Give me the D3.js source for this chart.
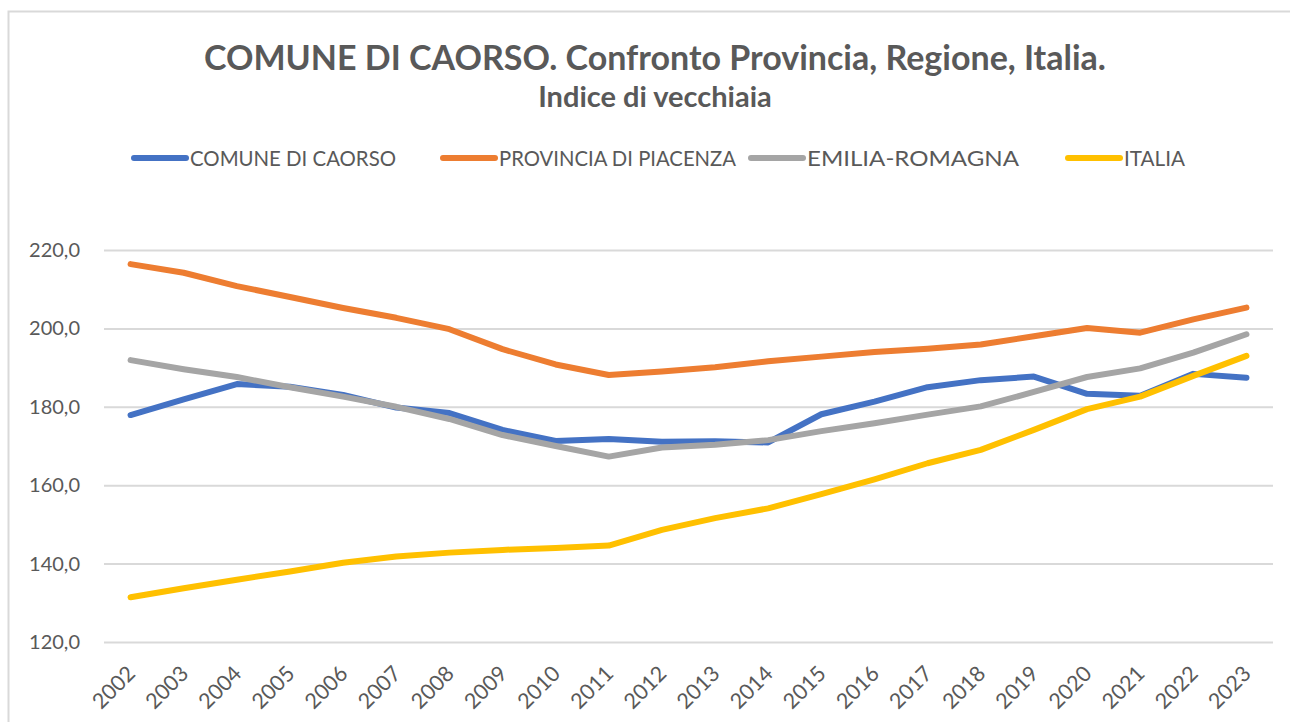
<!DOCTYPE html>
<html>
<head>
<meta charset="utf-8">
<script src="https://cdn.jsdelivr.net/npm/d3@7"></script>
<style>
  html, body { margin: 0; padding: 0; background: #fff; }
  svg { display: block; font-family: Lato, "Open Sans", sans-serif; }
</style>
</head>
<body>
<div id="chart"></div>
<script>
// Anni (asse x)
const years = ["2002","2003","2004","2005","2006","2007","2008","2009","2010","2011","2012",
               "2013","2014","2015","2016","2017","2018","2019","2020","2021","2022","2023"];

// Indice di vecchiaia per serie
const caorso = [177.9,181.9,185.8,185.1,183.0,179.8,178.4,174.1,171.3,171.8,171.1,
                171.2,170.9,178.1,181.3,185.0,186.8,187.7,183.3,182.8,188.4,187.4];
const piacenza = [216.4,214.2,210.8,208.0,205.2,202.7,199.8,194.7,190.8,188.1,189.0,
                  190.1,191.6,192.8,194.0,194.8,195.9,198.0,200.1,198.9,202.3,205.3];
const emiliaRomagna = [191.9,189.6,187.6,185.0,182.6,180.0,176.9,172.8,170.0,167.3,169.6,
                       170.3,171.5,173.8,175.8,178.0,180.1,183.8,187.6,189.8,193.8,198.5];
const italia = [131.4,133.7,135.9,138.0,140.2,141.8,142.8,143.5,144.0,144.6,148.6,
                151.6,154.1,157.7,161.5,165.6,169.0,174.1,179.4,182.6,187.9,193.0];

const seriesNames = ["COMUNE DI CAORSO","PROVINCIA DI PIACENZA","EMILIA-ROMAGNA","ITALIA"];
const seriesColors = ["#4472C4","#ED7D31","#A5A5A5","#FFC000"];
const yTicks = [120,140,160,180,200,220];

const W = 1290, H = 722;
const plot = {left: 104, right: 1273, top: 250, bottom: 642};
const textColor = "#595959";

const svg = d3.select("#chart").append("svg")
    .attr("width", W)
    .attr("height", H);

// cornice del grafico
svg.append("rect")
    .attr("x", 8.5).attr("y", 11.5)
    .attr("width", 1400).attr("height", 800)
    .attr("fill", "none")
    .attr("stroke", "#d9d9d9")
    .attr("stroke-width", 2);

const x = d3.scaleBand()
    .domain(years)
    .range([plot.left, plot.right]);

const y = d3.scaleLinear()
    .domain([120, 220])
    .range([plot.bottom, plot.top]);

// griglia orizzontale
svg.append("g")
    .attr("transform", `translate(${plot.left},0)`)
    .call(d3.axisLeft(y).tickValues(yTicks).tickSize(-(plot.right - plot.left)).tickFormat(""))
    .call(g => g.select(".domain").remove())
    .call(g => g.selectAll("line").attr("stroke", "#d9d9d9").attr("stroke-width", 2));

// etichette asse y
svg.append("g")
    .attr("transform", "translate(80,0)")
    .call(d3.axisLeft(y).tickValues(yTicks).tickSize(0)
      .tickFormat(d => d3.format(".1f")(d).replace(".", ",")))
    .call(g => g.select(".domain").remove())
    .call(g => g.selectAll("text")
      .attr("x", 0)
      .attr("fill", textColor)
      .style("font-size", "20px")
      .style("font-family", "Lato, sans-serif"));

// etichette asse x (ruotate)
svg.append("g")
    .attr("transform", `translate(0,${plot.bottom})`)
    .call(d3.axisBottom(x).tickSize(0))
    .call(g => g.select(".domain").remove())
    .call(g => g.selectAll(".tick text")
      .attr("fill", textColor)
      .style("font-size", "21.5px")
      .style("font-family", "Lato, sans-serif")
      .attr("text-anchor", "end")
      .attr("dy", null)
      .attr("y", 0)
      .attr("transform", "translate(6,33) rotate(-45)"));

// linee
const allSeries = [caorso, piacenza, emiliaRomagna, italia];
const line = d3.line()
    .x((d, i) => x(years[i]) + x.bandwidth() / 2)
    .y(d => y(d));

// ordine di disegno: Caorso, Piacenza, Emilia-Romagna, Italia
allSeries.forEach((vals, k) => {
  svg.append("path")
      .datum(vals)
      .attr("fill", "none")
      .attr("stroke", seriesColors[k])
      .attr("stroke-width", 6)
      .attr("stroke-linejoin", "round")
      .attr("stroke-linecap", "round")
      .attr("d", line);
});

// titolo
svg.append("text")
    .attr("x", 655).attr("y", 70)
    .attr("text-anchor", "middle")
    .attr("fill", textColor)
    .style("font-size", "34px")
    .style("font-weight", "bold")
    .text("COMUNE DI CAORSO. Confronto Provincia, Regione, Italia.");

svg.append("text")
    .attr("x", 655).attr("y", 107)
    .attr("text-anchor", "middle")
    .attr("fill", textColor)
    .style("font-size", "29px")
    .style("font-weight", "bold")
    .text("Indice di vecchiaia");

// legenda
const legendX = [132, 441, 749, 1066];
const legendW = [206, 237, 212, 61];
const legend = svg.append("g");
seriesNames.forEach((name, k) => {
  const g = legend.append("g").attr("transform", `translate(${legendX[k]},158)`);
  g.append("line")
      .attr("x1", 2).attr("x2", 54)
      .attr("stroke", seriesColors[k])
      .attr("stroke-width", 6)
      .attr("stroke-linecap", "round");
  g.append("text")
      .attr("x", 58).attr("y", 7.5)
      .attr("fill", textColor)
      .attr("textLength", legendW[k])
      .attr("lengthAdjust", "spacingAndGlyphs")
      .style("font-size", "21px")
      .text(name);
});
</script>
</body>
</html>
